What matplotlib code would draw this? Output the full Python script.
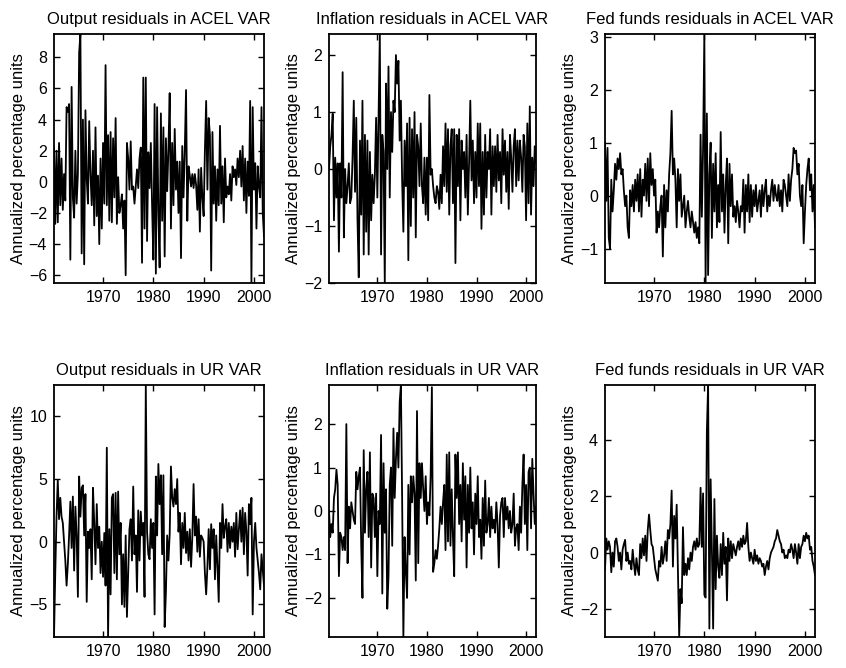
"""Six panels of quarterly VAR residuals (ACEL and UR VARs), 1960-2002."""
import matplotlib
matplotlib.use("Agg")
import matplotlib.pyplot as plt
import numpy as np

plt.rcParams["font.family"] = ["Liberation Sans", "DejaVu Sans"]
plt.rcParams["font.size"] = 12

# quarterly dates, 1960Q2 .. 2002Q1
dates = np.arange(1960.25, 2002.01, 0.25)

output_acel = [
    2.2, -2.7, 2.0, -2.6,   2.5, -1.5, 1.5, -1.8,   0.5, -1.2, 4.8, 4.5,
    5.0, -5.0, 6.1, -1.0,   -2.3, 2.0, -1.4, 0.5,   8.3, 9.5, -4.6, 4.0,
    -5.3, 4.6, 0.2, -1.4,   3.9, 0.5, -1.5, 2.0,   -2.8, 3.5, -2.2, 0.4,
    -4.0, 1.5, -3.0, 2.5,   -1.4, 7.5, -1.5, 3.0,   -2.5, 3.2, -2.6, 2.8,
    -1.0, 4.1, -2.7, 0.3,   -2.0, -1.5, -0.8, -3.0,   -1.2, -6.0, 2.5, 1.5,
    -0.5, 2.6, -0.5, -0.3,   -1.4, -0.3, 0.8, -0.4,   1.5, 2.2, -5.2, 6.7,
    -3.0, 6.7, -3.8, 1.9,   -0.4, 2.5, -1.5, -5.0,   5.0, -5.9, 4.8, -2.0,
    -5.5, 4.4, -2.5, 3.5,   -4.8, 2.8, -0.6, 2.1,   5.7, -3.0, 2.5, -1.5,
    3.4, -0.5, 1.3, -2.0,   1.3, -4.9, 2.3, -1.0,   2.0, 5.9, -2.5, 1.0,
    0.4, -0.3, 0.5, -0.4,   0.5, -0.2, -1.8, 0.8,   -3.2, 0.9, -1.0, -2.2,
    2.0, 5.2, -0.5, 4.1,   3.0, -5.7, 3.2, -1.4,   1.0, -2.5, 0.8, -1.5,
    3.6, -1.4, 1.0, -2.6,   1.5, -1.0, -0.3, -0.8,   0.5, -1.2, 1.0, 0.3,
    0.8, -0.2, 1.5, 0.3,   2.0, -0.3, 2.3, -1.2,   1.5, -2.0, 1.3, -0.9,
    5.2, -6.5, 4.8, -0.5,   1.2, -3.0, 1.0, -0.3,   -1.0, 4.8, -2.0, -3.5,
]
inflation_acel = [
    0.0, 0.4, 0.6, 0.97,   -0.9, 0.2, -0.5, 0.1,   -1.45, 0.1, -0.5, 1.7,
    -1.2, 0.0, -0.6, -0.3,   0.1, -0.6, -0.5, 0.2,   1.2, -0.4, 0.9, -0.9,
    -1.9, 0.5, -0.8, 1.2,   -1.5, 0.6, -1.1, 0.5,   -1.5, 0.3, -0.9, -0.1,
    -0.6, -0.1, 0.9, -0.5,   0.95, 2.37, -1.5, 0.6,   0.3, -2.0, 1.5, 0.0,
    1.8, -0.5, 1.0, 0.3,   1.2, 1.0, 2.0, 1.5,   1.9, 0.5, 1.2, -0.2,
    -1.1, 0.5, -0.3, 0.8,   -1.6, 0.9, -1.0, 0.7,   -0.5, 1.0, -1.2, 0.6,
    0.4, -0.3, 0.8, -0.3,   -0.6, 0.2, -0.8, 0.2,   -0.9, 1.3, -0.1, 0.0,
    -0.3, -0.5, -0.6, -0.3,   -0.4, -0.7, -0.1, -0.6,   0.4, -0.3, 0.8, -0.4,
    0.7, -0.8, 0.4, 0.7,   -0.6, 0.7, -1.65, 0.6,   -0.3, 0.7, -0.9, 0.5,
    0.0, 0.3, -0.5, 0.6,   -0.8, 0.1, 1.2, -0.2,   0.5, -0.6, 0.3, -0.5,
    0.8, -0.3, 0.8, -1.05,   0.3, -0.8, 0.6, -0.5,   0.3, 0.0, 0.7, -0.8,
    0.4, -0.3, 0.4, -0.4,   0.6, -0.2, 0.3, -0.6,   0.7, -0.1, 0.5, -0.4,
    0.3, -0.7, 0.6, 0.2,   -0.4, 0.4, 0.7, -0.3,   0.5, -0.2, 0.5, 0.2,
    -0.4, 0.6, 0.4, -0.9,   0.8, -0.6, 1.1, -0.8,   0.2, -0.3, 0.4, 0.1,
]
fedfunds_acel = [
    1.0, -0.1, 0.9, -0.8,   -1.0, 0.3, -0.3, 0.1,   0.6, 0.3, 0.7, 0.5,
    0.8, 0.4, 0.5, 0.1,   -0.2, 0.0, -0.6, -0.8,   0.1, -0.2, 0.2, -0.3,
    0.3, -0.1, 0.4, -0.3,   0.5, -0.4, 0.3, 0.0,   0.6, -0.1, 0.7, -0.2,
    0.8, 0.2, 0.5, 0.0,   0.3, -0.7, -0.3, -0.6,   -0.2, 0.0, -1.15, 0.2,
    -0.6, 0.1, -0.3, 0.4,   0.8, 1.6, 0.4, 0.7,   0.3, -0.6, 0.5, -0.1,
    0.4, -0.4, -0.2, 0.0,   -0.6, -0.3, -0.1, -0.4,   -0.6, -0.3, -0.5, -0.7,
    -0.5, -0.8, -0.6, -0.9,   1.15, -0.4, 0.9, 3.05,   -1.65, 1.55, -1.5, 0.4,
    1.0, -0.8, 0.6, -0.3,   0.8, -0.6, 0.2, -0.5,   1.2, -0.3, 0.4, -0.7,
    0.2, 0.7, -0.9, 0.6,   -0.2, 0.4, -0.4, -0.2,   -0.5, -0.1, -0.3, -0.6,
    -0.2, -0.3, 0.3, -0.7,   0.2, -0.3, 0.4, -0.5,   0.2, -0.4, 0.1, -0.2,
    0.2, -0.3, -0.1, 0.1,   -0.4, 0.2, -0.2, 0.1,   0.3, -0.3, 0.0, -0.2,
    0.1, 0.3, -0.1, 0.2,   0.0, -0.1, 0.2, -0.2,   0.1, -0.3, 0.3, 0.2,
    0.0, -0.2, 0.4, -0.1,   0.3, 0.5, 0.9, 0.8,   0.85, 0.4, 0.6, 0.0,
    -0.2, 0.2, -0.9, -0.3,   0.2, 0.5, 0.7, 0.1,   0.4, -0.3, 0.2, -0.6,
]
output_ur = [
    -7.6, -2.5, 2.0, 4.9,   1.8, 3.5, 2.0, 1.5,   0.0, -1.5, -3.5, -1.8,
    0.5, 3.2, -0.5, 3.6,   -2.3, 2.8, 0.5, -4.4,   5.2, 2.0, 4.3, 4.5,
    0.5, 3.8, -4.8, 0.8,   -0.5, 1.0, -3.0, 4.3,   1.5, -1.8, 3.0, -0.5,
    1.2, -2.5, 0.0, -2.8,   0.7, -3.5, 7.5, -7.6,   1.0, -4.2, 3.5, 3.8,
    -2.5, 3.9, -3.0, 4.0,   -1.0, 1.5, -5.0, -1.0,   -5.2, 0.5, -6.0, -2.5,
    1.0, 1.8, -1.5, 4.4,   -1.0, 0.5, -4.0, 2.5,   -1.5, 2.4, 0.5, 1.5,
    -4.4, 12.5, 0.8, -1.0,   -1.4, 1.8, -0.5, 1.5,   -5.8, 5.2, 0.5, 6.2,
    3.0, 5.3, -1.0, 5.3,   -6.8, -4.0, 0.5, -1.5,   0.6, 6.0, 3.5, 2.8,
    4.2, 3.0, 5.0, 0.8,   2.3, -1.8, 1.5, -0.5,   2.3, -0.9, 0.8, -1.5,
    1.0, -2.0, 0.4, 4.6,   0.5, 2.0, -0.8, 1.8,   -1.2, 0.5, 0.3, 0.0,
    -2.5, -4.2, -2.0, 1.0,   -2.2, 1.4, -0.5, 1.0,   -3.0, 0.5, -2.0, -4.8,
    1.5, -0.5, 3.0, 0.3,   1.2, 1.8, -0.8, 1.5,   -0.5, 1.2, 0.0, 1.5,
    -1.2, 2.3, -0.6, 1.0,   2.5, 0.0, 2.7, -1.0,   2.3, 0.8, -2.7, 3.0,
    1.4, 3.5, -5.8, 0.0,   1.5, -0.5, -1.5, -2.5,   -3.8, -1.0, -2.2, -3.5,
]
inflation_ur = [
    0.0, -0.6, -0.3, -0.5,   0.3, 0.5, 0.95, 0.6,   -1.5, -0.5, -0.6, -0.9,
    -0.6, -0.9, 2.0, -1.2,   0.1, -0.4, 0.2, 0.0,   -0.2, -0.3, 0.9, 0.5,
    0.8, 1.0, -0.8, -2.0,   1.4, -0.5, 0.5, 0.9,   -0.6, 1.35, -1.3, 0.4,
    0.3, -0.6, 0.4, -1.5,   0.0, -0.3, 1.75, -1.9,   1.1, -0.5, 0.5, -2.25,
    -1.5, 0.6, 1.0, -0.8,   1.9, 0.3, 1.2, 1.8,   1.0, 2.5, 2.9, 0.3,
    -2.9, -0.6, -1.4, -2.0,   0.6, -1.0, 0.8, 0.2,   0.8, 0.4, -1.6, 2.3,
    -1.2, 1.1, 0.3, 1.1,   0.5, 0.0, 0.8, -0.3,   0.2, -0.1, 0.8, 2.85,
    -1.4, -1.2, -0.9, -1.1,   -0.8, -0.4, 0.1, -0.3,   0.2, 0.6, -0.9, 1.3,
    -0.7, 1.35, -0.8, 0.5,   -0.6, -1.5, 1.3, 0.3,   1.35, -0.3, 0.6, -0.7,
    1.1, -0.2, 0.8, -1.3,   0.6, -0.5, 1.0, -0.4,   0.2, -1.0, 0.4, -0.3,
    0.8, -0.6, -0.2, -1.1,   0.3, -0.8, 0.7, -0.5,   -0.3, 0.3, -0.6, 0.1,
    -0.4, -0.2, -0.5, 0.2,   -0.3, -1.3, -0.1, 0.2,   0.3, -0.6, 0.3, -0.2,
    0.1, -0.4, 0.0, -0.5,   -0.3, 0.4, -0.8, -0.4,   -0.3, -0.9, 0.1, -0.5,
    0.6, 1.3, -0.3, 0.6,   -0.9, 0.9, 1.0, -0.4,   1.2, 0.4, -0.3, 0.1,
]
fedfunds_ur = [
    -0.6, 0.5, 0.1, 0.4,   0.2, -0.7, 0.0, -0.5,   0.4, 0.5, 0.2, -0.3,
    0.0, -0.6, 0.1, 0.3,   0.45, -0.3, 0.0, -0.4,   -0.3, -0.6, 0.1, -0.4,
    -0.8, -0.2, -0.6, -0.8,   0.3, -0.2, 0.5, -0.1,   0.6, -0.3, 0.8, 1.35,
    0.8, 0.3, 0.2, -0.2,   -0.6, -0.8, -1.0, -0.3,   -0.5, 0.2, -0.4, -0.1,
    0.4, -0.3, 0.8, 0.5,   1.0, 2.2, -0.5, 1.3,   0.5, 1.7, -0.7, -3.0,
    -1.3, -1.8, 0.9, -0.8,   -0.4, -0.8, -0.2, -0.6,   0.0, -0.3, 0.2, 0.4,
    0.1, 0.5, 0.2, 0.3,   2.3, 0.2, 2.1, -1.5,   -1.6, 4.3, 5.95, -2.7,
    2.6, 0.1, -2.7, 1.9,   -1.3, 0.6, -0.5, -0.9,   0.3, -0.8, 0.7, -0.4,
    0.2, -1.7, 0.5, -0.3,   0.4, -0.2, 0.3, 0.1,   -0.1, 0.2, 0.4, 0.1,
    0.5, 0.2, 0.6, 0.3,   0.4, 1.05, 0.2, -0.3,   0.0, -0.2, -0.4, 0.1,
    -0.3, -0.1, -0.4, -0.2,   -0.3, -0.5, -0.4, -0.8,   -0.5, -0.3, -0.6, -0.2,
    0.0, 0.1, 0.2, 0.4,   0.5, 0.8, 0.6, 0.4,   0.3, 0.0, 0.1, -0.2,
    -0.1, -0.2, 0.1, 0.0,   0.3, 0.1, -0.2, 0.3,   0.0, -0.4, 0.3, -0.2,
    0.2, 0.3, 0.6, 0.4,   0.7, 0.5, 0.6, 0.1,   0.2, -0.3, -0.5, -0.8,
]

titles = [
    "Output residuals in ACEL VAR", "Inflation residuals in ACEL VAR",
    "Fed funds residuals in ACEL VAR", "Output residuals in UR VAR",
    "Inflation residuals in UR VAR", "Fed funds residuals in UR VAR",
]
series = [output_acel, inflation_acel, fedfunds_acel,
          output_ur, inflation_ur, fedfunds_ur]
yticks = [
    [-6, -4, -2, 0, 2, 4, 6, 8], [-2, -1, 0, 1, 2], [-1, 0, 1, 2, 3],
    [-5, 0, 5, 10], [-2, -1, 0, 1, 2], [-2, 0, 2, 4],
]
xticks = [1970, 1980, 1990, 2000]

W, H = 846, 668
fig = plt.figure(figsize=(W / 100, H / 100), dpi=100)

# axes boxes in pixels: (left, right) per column, (top, bottom) per row
cols = [(54, 264), (329, 536), (605, 815)]
rows = [(34, 283), (385, 637)]

for k, (title, y) in enumerate(zip(titles, series)):
    r, c = divmod(k, 3)
    l, rt = cols[c]
    tp, bt = rows[r]
    ax = fig.add_axes([l / W, 1 - bt / H, (rt - l) / W, (bt - tp) / H])
    y = np.array(y)
    ax.plot(dates[:len(y)], y, color="black", lw=1.3)
    ax.set_xlim(dates[0], dates[len(y) - 1])
    ax.set_ylim(y.min(), y.max())
    ax.set_xticks(xticks)
    ax.set_yticks(yticks[k])
    ax.tick_params(direction="in", top=True, right=True, length=4, width=1,
                   labelsize=11.5, pad=5)
    for s in ax.spines.values():
        s.set_linewidth(1.3)
    ax.set_title(title, fontsize=12, pad=7)
    ax.set_ylabel("Annualized percentage units", fontsize=12, labelpad=2)

fig.savefig("out.png", dpi=100)
